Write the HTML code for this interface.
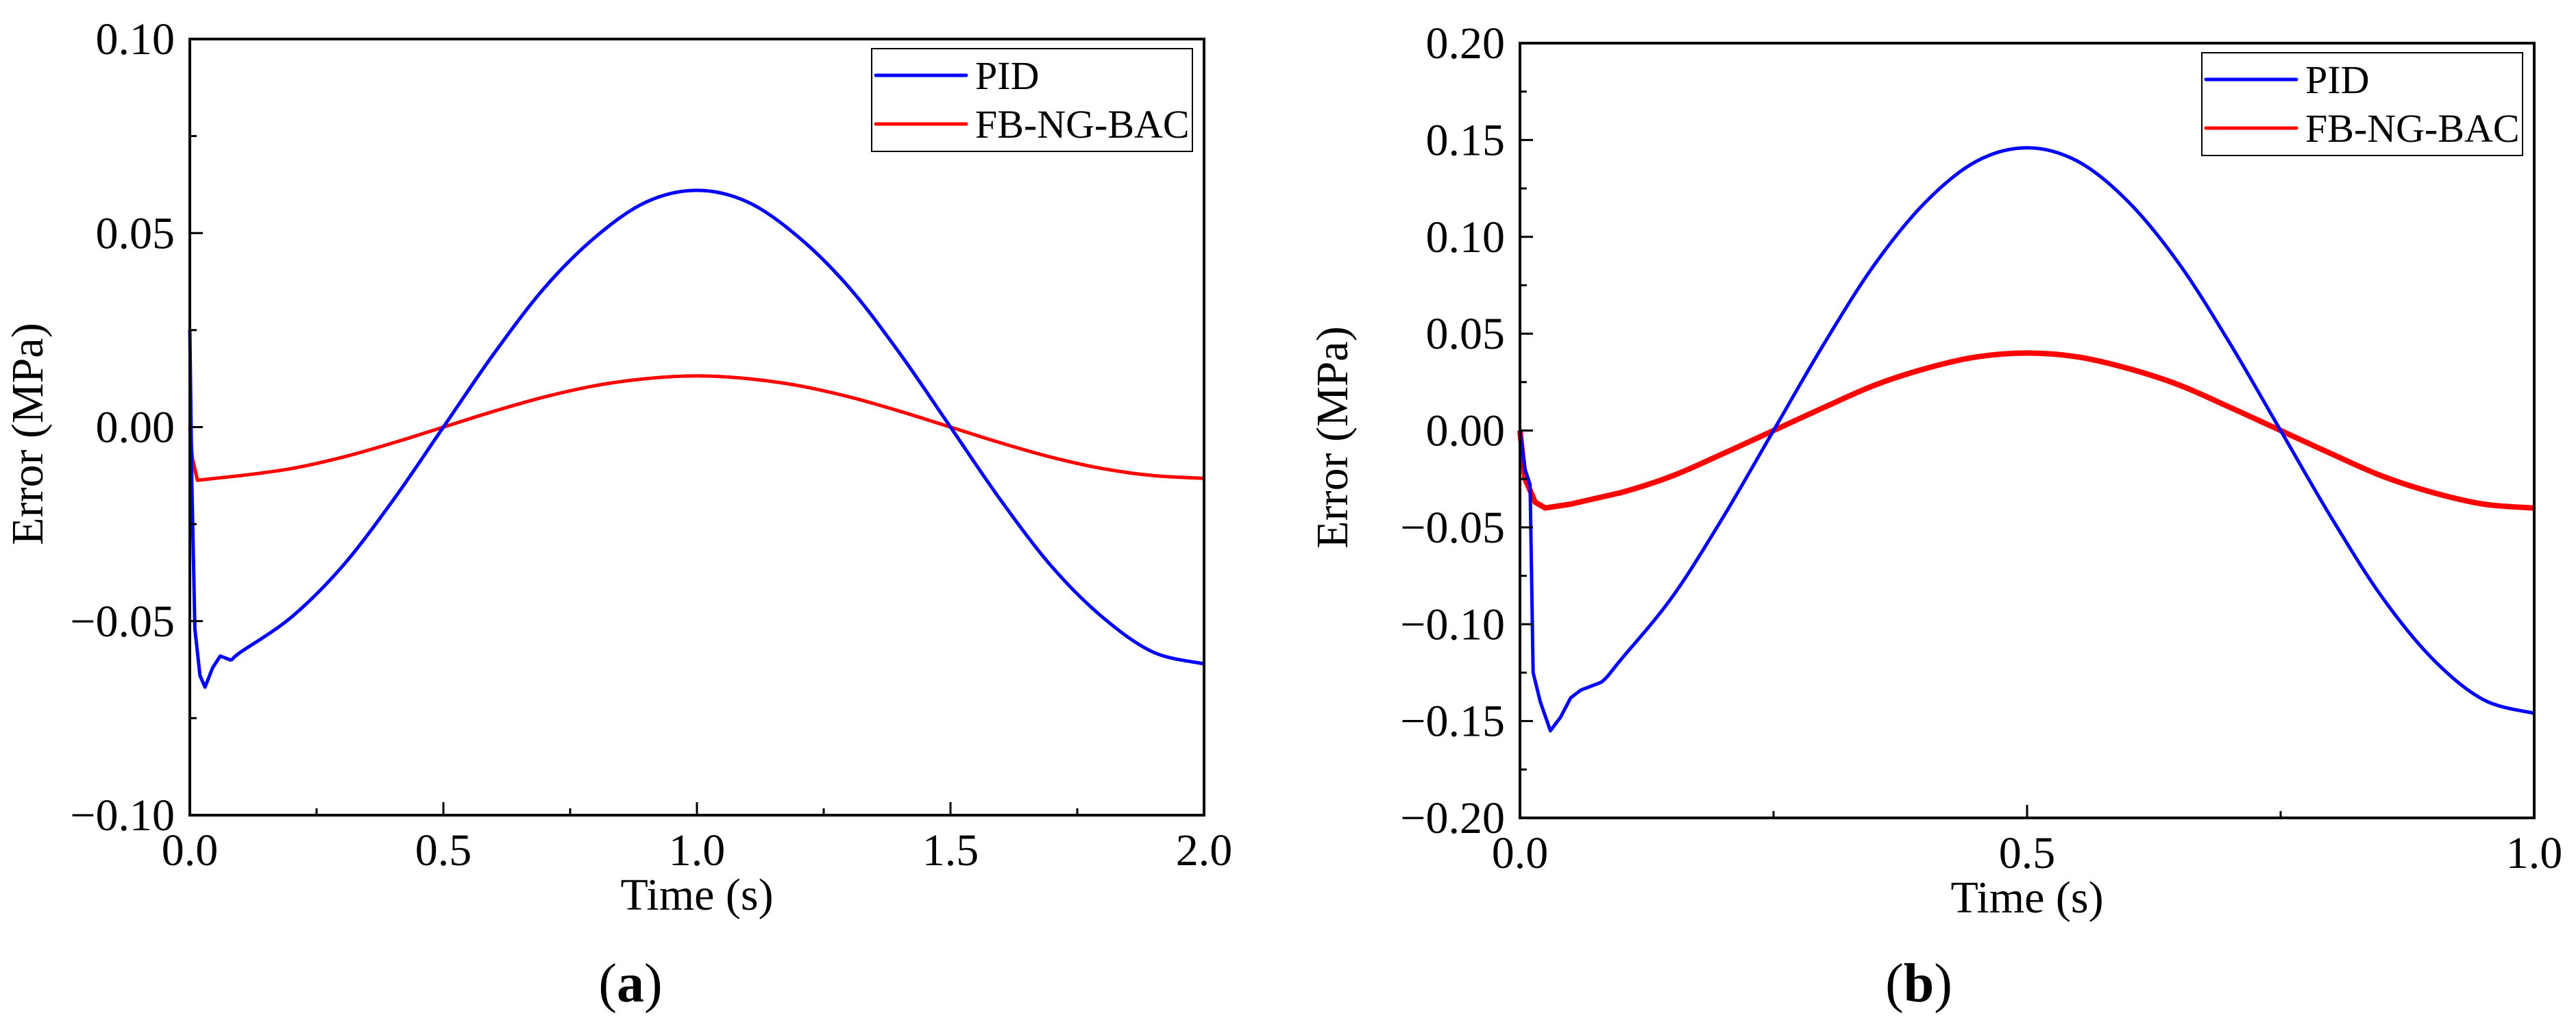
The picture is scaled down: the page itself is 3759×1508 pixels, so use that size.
<!DOCTYPE html>
<html><head><meta charset="utf-8">
<style>
html,body{margin:0;padding:0;background:#fff;}
svg{display:block;font-family:"Liberation Serif",serif;}
</style></head>
<body>
<svg id="fig" width="3759" height="1508" viewBox="0 0 3759 1508" xmlns="http://www.w3.org/2000/svg"></svg>
<script>
// ---- Panel (a) data ----
const aPidT = [0,0.004,0.01,0.02,0.03,0.045,0.06,0.08,0.1,0.2,0.3,0.4,0.5,0.6,0.7,0.8,0.9,1.0,1.1,1.2,1.3,1.4,1.5,1.6,1.7,1.8,1.9,2.0];
const aPidV = [0.025,-0.015,-0.052,-0.064,-0.067,-0.062,-0.059,-0.060,-0.058,-0.049,-0.036,-0.019,0,0.019,0.036,0.049,0.058,0.061,0.058,0.049,0.036,0.019,0,-0.019,-0.036,-0.049,-0.058,-0.061];
const aFbT = [0,0.005,0.015,0.1,0.2,0.3,0.4,0.5,0.6,0.7,0.8,0.9,1.0,1.1,1.2,1.3,1.4,1.5,1.6,1.7,1.8,1.9,2.0];
const aFbV = [0,-0.008,-0.0137,-0.0125,-0.0107,-0.0078,-0.0041,0,0.0041,0.0078,0.0107,0.0125,0.0132,0.0125,0.0107,0.0078,0.0041,0,-0.0041,-0.0078,-0.0107,-0.0125,-0.0132];
const aXTicks = [0,0.5,1.0,1.5,2.0];
const aXLabels = ["0.0","0.5","1.0","1.5","2.0"];
const aYTicks = [-0.10,-0.05,0,0.05,0.10];
const aYLabels = ["\u22120.10","\u22120.05","0.00","0.05","0.10"];
// ---- Panel (b) data ----
const bPidT = [0,0.005,0.01,0.013,0.02,0.03,0.04,0.05,0.06,0.08,0.1,0.15,0.2,0.25,0.3,0.35,0.4,0.45,0.5,0.55,0.6,0.65,0.7,0.75,0.8,0.85,0.9,0.95,1.0];
const bPidV = [0,-0.02,-0.028,-0.125,-0.14,-0.155,-0.148,-0.138,-0.134,-0.130,-0.118,-0.086,-0.045,0,0.045,0.086,0.118,0.139,0.146,0.139,0.118,0.086,0.045,0,-0.045,-0.086,-0.118,-0.139,-0.146];
const bFbT = [0,0.005,0.015,0.025,0.05,0.1,0.15,0.2,0.25,0.3,0.35,0.4,0.45,0.5,0.55,0.6,0.65,0.7,0.75,0.8,0.85,0.9,0.95,1.0];
const bFbV = [0,-0.025,-0.037,-0.040,-0.038,-0.032,-0.0235,-0.012,0,0.012,0.0235,0.032,0.038,0.040,0.038,0.032,0.0235,0.012,0,-0.012,-0.0235,-0.032,-0.038,-0.040];
const bXTicks = [0,0.5,1.0];
const bXLabels = ["0.0","0.5","1.0"];
const bYTicks = [-0.20,-0.15,-0.10,-0.05,0,0.05,0.10,0.15,0.20];
const bYLabels = ["\u22120.20","\u22120.15","\u22120.10","\u22120.05","0.00","0.05","0.10","0.15","0.20"];

const NS="http://www.w3.org/2000/svg";
const svg=document.getElementById('fig');
function mk(tag,attrs,parent,text){const e=document.createElementNS(NS,tag);for(const k in attrs)e.setAttribute(k,attrs[k]);if(text!==undefined)e.textContent=text;(parent||svg).appendChild(e);return e;}

function panel(p){
  const g=mk('g',{});
  
  
  const sx=t=>p.L+(t-p.x0)/(p.x1-p.x0)*(p.R-p.L);
  const sy=v=>p.B-(v-p.y0)/(p.y1-p.y0)*(p.B-p.T);
  function series(T,V,color,w,name){
    const P=T.map((t,i)=>[sx(t),sy(V[i])]);
    let d='M'+P[0][0].toFixed(1)+' '+P[0][1].toFixed(1);
    for(let i=0;i<P.length-1;i++){
      if(T[i]<0.075){d+='L'+P[i+1][0].toFixed(1)+' '+P[i+1][1].toFixed(1);continue;}
      const p0=P[Math.max(i-1,0)],p1=P[i],p2=P[i+1],p3=P[Math.min(i+2,P.length-1)];
      const c1=[p1[0]+(p2[0]-p0[0])/6,p1[1]+(p2[1]-p0[1])/6];
      const c2=[p2[0]-(p3[0]-p1[0])/6,p2[1]-(p3[1]-p1[1])/6];
      d+='C'+c1[0].toFixed(1)+' '+c1[1].toFixed(1)+' '+c2[0].toFixed(1)+' '+c2[1].toFixed(1)+' '+p2[0].toFixed(1)+' '+p2[1].toFixed(1);
    }
    const pth=mk('path',{d:d,fill:'none',stroke:color,'stroke-width':w,'stroke-linejoin':'round'},g);
    
    
  }
  series(p.fbT,p.fbV,'#ff0000',p.fbW,p.id+'-fb-ng-bac-line');
  series(p.pidT,p.pidV,'#0000ff',p.pidW,p.id+'-pid-line');
  const fr=mk('rect',{x:p.L,y:p.T,width:p.R-p.L,height:p.B-p.T,fill:'none',stroke:'#000','stroke-width':4},g);
  
  
  p.xt.forEach((t,i)=>{
    const x=sx(t);
    mk('line',{x1:x,y1:p.B,x2:x,y2:p.B-19,stroke:'#000','stroke-width':3},g);
    const lb=mk('text',{x:x,y:p.B+73,'font-size':66,'text-anchor':'middle'},g,p.xl[i]);
    
    
    if(i<p.xt.length-1){const xm=sx(t+(p.xt[1]-p.xt[0])/2);mk('line',{x1:xm,y1:p.B,x2:xm,y2:p.B-10,stroke:'#000','stroke-width':3},g);}
  });
  p.yt.forEach((v,i)=>{
    const y=sy(v);
    mk('line',{x1:p.L,y1:y,x2:p.L+19,y2:y,stroke:'#000','stroke-width':3},g);
    const lb=mk('text',{x:p.L-22,y:y+22,'font-size':66,'text-anchor':'end'},g,p.yl[i]);
    
    
    if(i<p.yt.length-1){const ym=sy(v+(p.yt[1]-p.yt[0])/2);mk('line',{x1:p.L,y1:ym,x2:p.L+10,y2:ym,stroke:'#000','stroke-width':3},g);}
  });
  const xt=mk('text',{x:(p.L+p.R)/2,y:p.B+138,'font-size':66,'text-anchor':'middle'},g,'Time  (s)');
  
  
  const cy=(p.T+p.B)/2+10;
  const yt=mk('text',{x:p.yTitleX,y:cy,'font-size':66,'text-anchor':'middle',transform:'rotate(-90 '+p.yTitleX+' '+cy+')'},g,'Error (MPa)');
  
  
  const lg=mk('g',{},g);
  
  
  const lx=p.R-485, ly=p.T+14;
  mk('rect',{x:lx,y:ly,width:468,height:150,fill:'#fff',stroke:'#000','stroke-width':2},lg);
  const e1=mk('g',{},lg);
  
  
  mk('line',{x1:lx+6,y1:ly+39,x2:lx+138,y2:ly+39,stroke:'#0000ff','stroke-width':5,'stroke-linecap':'round'},e1);
  mk('text',{x:lx+151,y:ly+59,'font-size':58},e1,'PID');
  const e2=mk('g',{},lg);
  
  
  mk('line',{x1:lx+6,y1:ly+110,x2:lx+138,y2:ly+110,stroke:'#ff0000','stroke-width':5,'stroke-linecap':'round'},e2);
  mk('text',{x:lx+151,y:ly+130,'font-size':58},e2,'FB-NG-BAC');
  const cap=mk('text',{x:p.capX,y:1462,'font-size':80,'text-anchor':'middle'},g);
  
  
  mk('tspan',{},cap,'(');
  mk('tspan',{'font-weight':'bold'},cap,p.id.slice(-1));
  mk('tspan',{},cap,')');
}

panel({id:'panel-a',L:277,R:1757,T:57,B:1190,x0:0,x1:2,y0:-0.10,y1:0.10,
  pidT:aPidT,pidV:aPidV,fbT:aFbT,fbV:aFbV,pidW:5,fbW:5,
  xt:aXTicks,xl:aXLabels,yt:aYTicks,yl:aYLabels,yTitleX:62,capX:920});
panel({id:'panel-b',L:2218,R:3698,T:63,B:1194,x0:0,x1:1,y0:-0.20,y1:0.20,
  pidT:bPidT,pidV:bPidV,fbT:bFbT,fbV:bFbV,pidW:5,fbW:8,
  xt:bXTicks,xl:bXLabels,yt:bYTicks,yl:bYLabels,yTitleX:1966,capX:2800});
</script>
</body></html>
